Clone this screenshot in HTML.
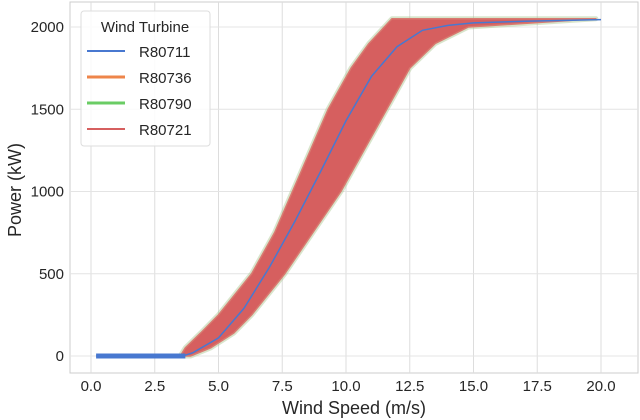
<!DOCTYPE html>
<html><head><meta charset="utf-8"><style>
body{margin:0;background:#fff;}
svg{display:block;font-family:"Liberation Sans",sans-serif;}
</style></head><body>
<svg id="chart" width="640" height="420">
<rect x="70" y="2" width="568" height="371" fill="#fff" stroke="#ccc"/>
<g id="grid"></g>
<g id="marks"></g>
<g id="axes"></g>
<g>
<rect x="81" y="11" width="129" height="135" rx="3" fill="#fff" fill-opacity="0.85" stroke="#ddd"/>
<text x="145" y="32" font-size="15" text-anchor="middle" fill="#262626">Wind Turbine</text>
<g id="legend-entries"></g>
</g>
<text x="354" y="414" font-size="18" text-anchor="middle" fill="#262626">Wind Speed (m/s)</text>
<text transform="translate(21,190) rotate(-90)" font-size="18" text-anchor="middle" fill="#262626">Power (kW)</text>
</svg>
<script>
const xTicks=[0,2.5,5,7.5,10,12.5,15,17.5,20];
const yTicks=[0,500,1000,1500,2000];
const series=["R80711","R80736","R80790","R80721"];
const seriesColors=["#4878d0","#ee854a","#6acc64","#d65f5f"];
const powerLevels=[0,50,140,250,500,750,1000,1250,1500,1750,1900,2000,2050];
const speedLeft=[3.5,3.7,4.3,5.0,6.3,7.2,7.9,8.6,9.3,10.2,10.9,11.5,11.8];
const speedRight=[3.9,4.7,5.6,6.3,7.6,8.7,9.8,10.7,11.6,12.5,13.5,14.8,19.8];
const meanSpeed=[0.2,3.6,4,5,6,7,8,9,10,11,12,13,14,15,17,20];
const meanPower=[0,0,20,110,290,540,820,1120,1430,1700,1880,1980,2010,2025,2035,2045];
const X=v=>91+v*25.5, Y=v=>356-v*0.1645;
const ns="http://www.w3.org/2000/svg";
function mk(t,a,p){const e=document.createElementNS(ns,t);for(const k in a)e.setAttribute(k,a[k]);p.appendChild(e);return e;}
const grid=document.getElementById('grid'),axes=document.getElementById('axes'),marks=document.getElementById('marks');
xTicks.forEach(t=>{
 const l=mk('line',{x1:X(t),x2:X(t),y1:2,y2:373,stroke:'#ddd'},grid);
 
 
 const tx=mk('text',{x:X(t),y:391,'font-size':15,'text-anchor':'middle',fill:'#262626'},axes);
 tx.textContent=t.toFixed(1);
 
 
});
yTicks.forEach(t=>{
 const l=mk('line',{x1:70,x2:638,y1:Y(t),y2:Y(t),stroke:'#e4e4e4'},grid);
 
 
 const tx=mk('text',{x:64,y:Y(t)+5,'font-size':15,'text-anchor':'end',fill:'#262626'},axes);
 tx.textContent=t;
 
 
});
let pts=[];
powerLevels.forEach((p,i)=>pts.push(X(speedLeft[i])+','+Y(p)));
for(let i=powerLevels.length-1;i>=0;i--)pts.push(X(speedRight[i])+','+Y(powerLevels[i]));
const fringe=mk('polygon',{points:pts.join(' '),fill:'none',opacity:0.45,stroke:'#a9c58f','stroke-width':5,'stroke-linejoin':'round'},marks);


const band=mk('polygon',{points:pts.join(' '),fill:'#d65f5f',stroke:'#d87a70','stroke-width':1.5,'stroke-linejoin':'round'},marks);


const zero=mk('line',{x1:X(0.2),x2:X(3.7),y1:Y(0),y2:Y(0),stroke:'#4878d0','stroke-width':5},marks);


const mp=meanSpeed.map((s,i)=>X(s)+','+Y(meanPower[i])).join(' ');
const ml=mk('polyline',{points:mp,fill:'none',stroke:'#4878d0','stroke-width':1.5},marks);


const le=document.getElementById('legend-entries');
series.forEach((s,i)=>{
 const y=52+i*26;
 const l=mk('line',{x1:87,x2:125,y1:y-1,y2:y-1,stroke:seriesColors[i],'stroke-width':i==0||i==3?2:3},le);
 
 
 const t=mk('text',{x:139,y:y+5,'font-size':15,fill:'#262626'},le);
 t.textContent=s;
 
 
});
</script>
</body></html>
